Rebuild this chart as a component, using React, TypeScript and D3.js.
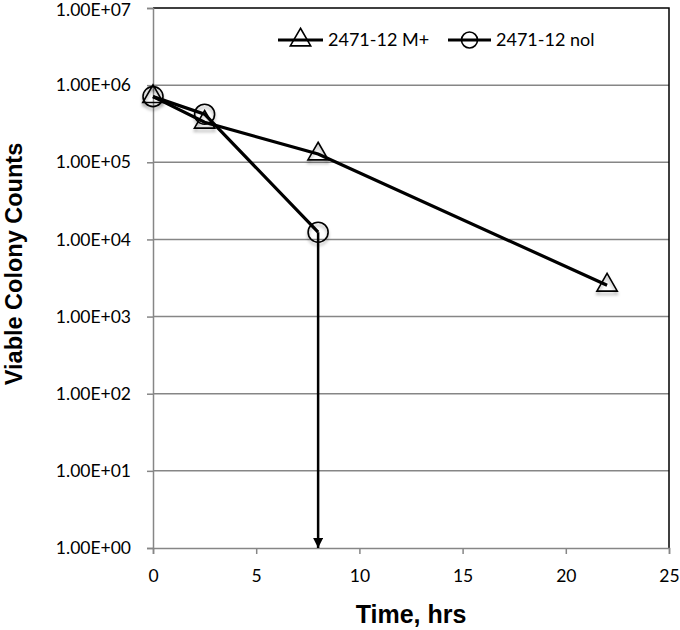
import { useEffect, useRef } from 'react';
import * as d3 from 'd3';

// time points (hrs) and counts
const mPlusHours = [0, 2.5, 8, 22];
const mPlusCounts = [7.1e5, 3.3e5, 1.28e5, 2.55e3];
const nolHours = [0, 2.5, 8];
const nolCounts = [7.1e5, 4.2e5, 1.24e4];

const seriesNames = ['2471-12 M+', '2471-12 nol'];
const xTicks = [0, 5, 10, 15, 20, 25];
const yTicks = [1e0, 1e1, 1e2, 1e3, 1e4, 1e5, 1e6, 1e7];
const yTickLabels = ['1.00E+00', '1.00E+01', '1.00E+02', '1.00E+03', '1.00E+04', '1.00E+05', '1.00E+06', '1.00E+07'];

const SurvivalChart = () => {
  const svgRef = useRef<SVGSVGElement>(null);

  useEffect(() => {
    const width = 680;
    const height = 630;
    const margin = { top: 8, right: 11, bottom: 82, left: 153 };
    const tickFont = 'Lato, "Open Sans", sans-serif';
    const titleFont = '"Liberation Sans", Arial, sans-serif';
    const grid = '#868686';

    const xScale = d3.scaleLinear().domain([0, 25]).range([margin.left, width - margin.right]);
    const yScale = d3.scaleLog().domain([1, 1e7]).range([height - margin.bottom, margin.top]);

    d3.select(svgRef.current).selectAll('*').remove();
    const svg = d3.select(svgRef.current).attr('width', width).attr('height', height);

    // soft shadow like the spreadsheet markers
    const defs = svg.append('defs');
    defs.append('filter')
      .attr('id', 'shadow')
      .attr('x', '-50%').attr('y', '-50%').attr('width', '200%').attr('height', '200%')
      .append('feDropShadow')
      .attr('dx', 0).attr('dy', 3).attr('stdDeviation', 1.5)
      .attr('flood-color', '#000').attr('flood-opacity', 0.3);
    defs.append('marker')
      .attr('id', 'arrow')
      .attr('viewBox', '0 0 10 10')
      .attr('refX', 10).attr('refY', 5)
      .attr('markerWidth', 4).attr('markerHeight', 4)
      .attr('markerUnits', 'strokeWidth')
      .attr('orient', 'auto')
      .append('path')
      .attr('d', 'M0,0 L10,5 L0,10 z')
      .attr('fill', '#000');

    const x0 = margin.left;
    const x1 = width - margin.right;
    const y0 = height - margin.bottom;
    const y1 = margin.top;

    // horizontal gridlines
    svg.append('g')
      .selectAll('line')
      .data(yTicks.slice(1, -1))
      .join('line')
      .attr('x1', x0).attr('x2', x1)
      .attr('y1', d => yScale(d)).attr('y2', d => yScale(d))
      .attr('stroke', grid).attr('stroke-width', 1.5);

    // plot border: top and right black
    svg.append('path')
      .attr('d', `M${x0},${y1} H${x1} V${y0}`)
      .attr('fill', 'none').attr('stroke', '#000').attr('stroke-width', 1.5);

    // y axis
    const yAxis = svg.append('g')
      .attr('transform', `translate(${x0},0)`)
      .call(d3.axisLeft(yScale).tickValues(yTicks).tickFormat((_, i) => yTickLabels[i]).tickSizeOuter(0).tickSize(6).tickPadding(16));
    yAxis.select('.domain').attr('stroke', grid).attr('stroke-width', 1.5);
    yAxis.selectAll('.tick line').attr('stroke', grid).attr('stroke-width', 1.5);
    yAxis.selectAll('.tick text')
      .attr('fill', '#000').attr('font-family', tickFont).attr('font-size', 17.5);
    // keep the top label inside the page
    yAxis.selectAll<SVGTextElement, number>('.tick text')
      .filter(d => d === 1e7)
      .attr('dy', '0.45em');

    // x axis
    const xAxis = svg.append('g')
      .attr('transform', `translate(0,${y0})`)
      .call(d3.axisBottom(xScale).tickValues(xTicks).tickSizeOuter(0).tickSize(6).tickPadding(16));
    xAxis.select('.domain').attr('stroke', grid).attr('stroke-width', 1.5);
    xAxis.selectAll('.tick line').attr('stroke', grid).attr('stroke-width', 1.5);
    xAxis.selectAll('.tick text')
      .attr('fill', '#000').attr('font-family', tickFont).attr('font-size', 17.5);

    // axis titles
    svg.append('text')
      .attr('x', (x0 + x1) / 2)
      .attr('y', 623)
      .attr('text-anchor', 'middle')
      .attr('font-family', titleFont).attr('font-weight', 'bold').attr('font-size', 25)
      .text('Time, hrs');

    svg.append('text')
      .attr('transform', `translate(22,264) rotate(-90)`)
      .attr('text-anchor', 'middle')
      .attr('font-family', titleFont).attr('font-weight', 'bold').attr('font-size', 23.5)
      .text('Viable Colony Counts');

    const line = d3.line<[number, number]>()
      .x(d => xScale(d[0]))
      .y(d => yScale(d[1]));

    const mPlus = mPlusHours.map((h, i) => [h, mPlusCounts[i]] as [number, number]);
    const nol = nolHours.map((h, i) => [h, nolCounts[i]] as [number, number]);

    svg.append('path').datum(mPlus).attr('d', line)
      .attr('fill', 'none').attr('stroke', '#000').attr('stroke-width', 3.2);
    svg.append('path').datum(nol).attr('d', line)
      .attr('fill', 'none').attr('stroke', '#000').attr('stroke-width', 3.2);

    // arrow from last nol point down to the axis (below detection limit)
    const last = nol[nol.length - 1];
    svg.append('line')
      .attr('x1', xScale(last[0])).attr('x2', xScale(last[0]))
      .attr('y1', yScale(last[1])).attr('y2', yScale(1))
      .attr('stroke', '#000').attr('stroke-width', 2.5)
      .attr('marker-end', 'url(#arrow)');

    const triangle = d3.symbol().type(d3.symbolTriangle).size(180);

    svg.append('g')
      .selectAll('path')
      .data(mPlus)
      .join('path')
      .attr('d', triangle)
      .attr('transform', d => `translate(${xScale(d[0])},${yScale(d[1])})`)
      .attr('fill', 'none').attr('stroke', '#000').attr('stroke-width', 1.6)
      .attr('filter', 'url(#shadow)');

    svg.append('g')
      .selectAll('circle')
      .data(nol)
      .join('circle')
      .attr('cx', d => xScale(d[0])).attr('cy', d => yScale(d[1]))
      .attr('r', 10)
      .attr('fill', 'none').attr('stroke', '#000').attr('stroke-width', 1.6)
      .attr('filter', 'url(#shadow)');

    // legend
    const legendY = 40;
    const legend = svg.append('g');
    [[278, 323, 328], [448, 491, 496]].forEach(([lx0, lx1, tx], i) => {
      legend.append('line')
        .attr('x1', lx0).attr('x2', lx1).attr('y1', legendY).attr('y2', legendY)
        .attr('stroke', '#000').attr('stroke-width', 3.2);
      const cx = (lx0 + lx1) / 2;
      if (i === 0) {
        legend.append('path').attr('d', triangle)
          .attr('transform', `translate(${cx},${legendY})`)
          .attr('fill', 'none').attr('stroke', '#000').attr('stroke-width', 1.6);
      } else {
        legend.append('circle').attr('cx', cx).attr('cy', legendY).attr('r', 8)
          .attr('fill', 'none').attr('stroke', '#000').attr('stroke-width', 1.6);
      }
      legend.append('text')
        .attr('x', tx).attr('y', legendY)
        .attr('dy', '0.35em')
        .attr('font-family', tickFont).attr('font-size', 18)
        .text(seriesNames[i]);
    });
  }, []);

  return <svg ref={svgRef} style={{ position: 'absolute', left: 0, top: 0 }}></svg>;
};

export default function App() {
  return <SurvivalChart />;
}
